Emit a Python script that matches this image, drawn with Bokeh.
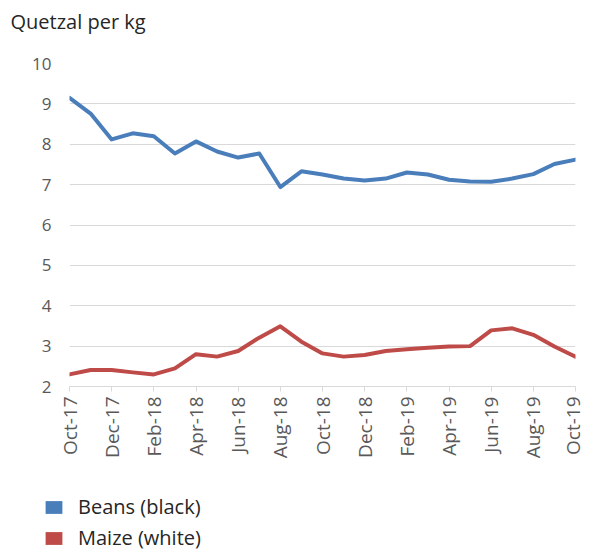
import math
from bokeh.plotting import figure
from bokeh.models import FixedTicker, Range1d, Legend, LegendItem, Label
from bokeh.layouts import column
from bokeh.embed import file_html
from bokeh.resources import INLINE

months = ["Oct-17", "Nov-17", "Dec-17", "Jan-18", "Feb-18", "Mar-18", "Apr-18", "May-18",
          "Jun-18", "Jul-18", "Aug-18", "Sep-18", "Oct-18", "Nov-18", "Dec-18", "Jan-19",
          "Feb-19", "Mar-19", "Apr-19", "May-19", "Jun-19", "Jul-19", "Aug-19", "Sep-19", "Oct-19"]
beans = [9.15, 8.76, 8.12, 8.27, 8.2, 7.77, 8.07, 7.82, 7.67, 7.77, 6.94, 7.33, 7.25,
         7.15, 7.1, 7.15, 7.3, 7.25, 7.12, 7.08, 7.07, 7.15, 7.26, 7.51, 7.62]
maize = [2.3, 2.41, 2.41, 2.35, 2.3, 2.45, 2.8, 2.74, 2.88, 3.21, 3.49, 3.11, 2.82,
         2.74, 2.78, 2.88, 2.92, 2.96, 2.99, 3.0, 3.39, 3.44, 3.28, 2.99, 2.74]
series_names = ["Beans (black)", "Maize (white)"]
y_ticks = [2, 3, 4, 5, 6, 7, 8, 9, 10]
unit_label = "Quetzal per kg"

BLUE = "#4a7ebb"
RED = "#be4b48"
FONT = "Open Sans"
W = 585

x = list(range(len(months)))


def blank_panel(h):
    f = figure(width=W, height=h, output_backend="svg", toolbar_location=None,
               x_range=Range1d(0, 1), y_range=Range1d(0, 1), min_border=0,
               x_axis_location=None, y_axis_location=None)
    f.outline_line_color = None
    f.xgrid.grid_line_color = None
    f.ygrid.grid_line_color = None
    f.frame_align = False
    return f


# title panel
tt = blank_panel(40)
tt.add_layout(Label(x=10, y=19, x_units="screen", y_units="screen", text=unit_label,
                    text_font=FONT, text_font_size="20px", text_color="#262626",
                    text_baseline="middle", text_align="left"))

# main chart
p = figure(width=W, height=440, output_backend="svg", toolbar_location=None,
           x_range=Range1d(0, len(months) - 1), y_range=Range1d(2, 10),
           min_border_left=69, min_border_right=10, min_border_top=23, min_border_bottom=94)
p.outline_line_color = None
p.frame_align = False

p.line(x, beans, line_color=BLUE, line_width=4, line_join="round", line_cap="round")
p.line(x, maize, line_color=RED, line_width=4, line_join="round", line_cap="round")

p.xgrid.grid_line_color = None
p.ygrid.grid_line_color = "#d9d9d9"
p.ygrid.grid_line_width = 1
p.yaxis.ticker = FixedTicker(ticks=y_ticks)
p.yaxis.axis_line_color = None
p.yaxis.major_tick_line_color = None
p.yaxis.minor_tick_line_color = None
p.yaxis.major_label_text_font = FONT
p.yaxis.major_label_text_font_size = "17px"
p.yaxis.major_label_text_color = "#595959"
p.yaxis.major_label_standoff = 12

p.xaxis.ticker = FixedTicker(ticks=x[::2])
p.xaxis.major_label_overrides = {i: months[i] for i in x[::2]}
p.xaxis.major_label_orientation = math.pi / 2
p.xaxis.axis_line_color = "#d9d9d9"
p.xaxis.major_tick_line_color = "#d9d9d9"
p.xaxis.major_tick_out = 5
p.xaxis.major_tick_in = 0
p.xaxis.minor_tick_line_color = None
p.xaxis.major_label_text_font = FONT
p.xaxis.major_label_text_font_size = "19px"
p.xaxis.major_label_text_color = "#595959"
p.xaxis.major_label_standoff = 5

# legend panel
lg = blank_panel(73)
rb = lg.rect(x=[0.5], y=[-5], width=0.1, height=0.1, fill_color=BLUE, line_color=None)
rm = lg.rect(x=[0.5], y=[-5], width=0.1, height=0.1, fill_color=RED, line_color=None)
legend = Legend(items=[LegendItem(label=series_names[0], renderers=[rb]),
                       LegendItem(label=series_names[1], renderers=[rm])],
                location=(43, 2), orientation="vertical",
                glyph_width=21, glyph_height=16, label_standoff=14, spacing=4,
                label_text_font=FONT, label_text_font_size="20px", label_text_color="#262626",
                background_fill_alpha=0, border_line_color=None, padding=0, margin=0)
lg.add_layout(legend, "center")

layout = column(tt, p, lg, spacing=0)
open("out.html", "w").write(file_html(layout, INLINE))
